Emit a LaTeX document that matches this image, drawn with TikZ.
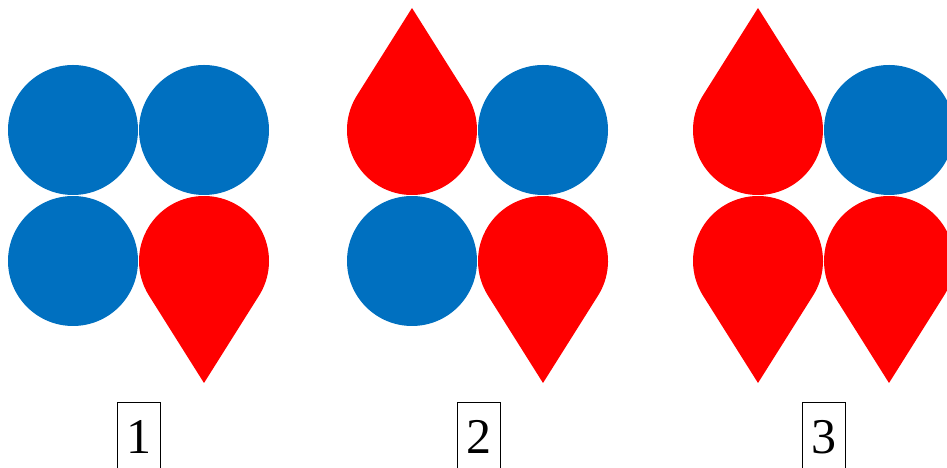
\documentclass[tikz,border=0pt]{standalone}
\usepackage{fontspec}
\setmainfont{Liberation Serif}
\usetikzlibrary{positioning}
\definecolor{dotblue}{RGB}{0,112,192}
\definecolor{dropred}{RGB}{255,0,0}

\tikzset{
  blob/.style={circle,fill=dotblue,minimum size=130pt,inner sep=0pt},
  tag/.style={draw,thin,anchor=north,minimum width=43pt,inner ysep=18pt,
    text height=33pt,text depth=30pt,font=\fontsize{50}{60}\selectfont},
  drop/.pic={\fill[dropred] (0,-122) -- (-32.2:65) arc[start angle=-32.2,end angle=212.2,radius=65pt] -- cycle;}
}

\begin{document}
\begin{tikzpicture}[x=1pt,y=1pt]
    \useasboundingbox (0,0) rectangle (947,468);
    \clip (0,0) rectangle (947,468);

    % First set: one drop
    \node[blob] (a1) at (73,338) {};
    \node[blob] (a2) at (204,338) {};
    \node[blob] (a3) at (73,207) {};
    \pic at (204,207) {drop};
    \node[tag] (n1) at (138.5,66) {1};

    % Second set: two drops
    \pic[rotate=180] at (412,338) {drop};
    \node[blob] (b2) at (543,338) {};
    \node[blob] (b3) at (412,207) {};
    \pic at (543,207) {drop};
    \node[tag] (n2) at (478.5,66) {2};

    % Third set: three drops
    \pic[rotate=180] at (758,338) {drop};
    \node[blob] (c2) at (889,338) {};
    \pic at (758,207) {drop};
    \pic at (889,207) {drop};
    \node[tag] (n3) at (824,66) {3};
\end{tikzpicture}
\end{document}
